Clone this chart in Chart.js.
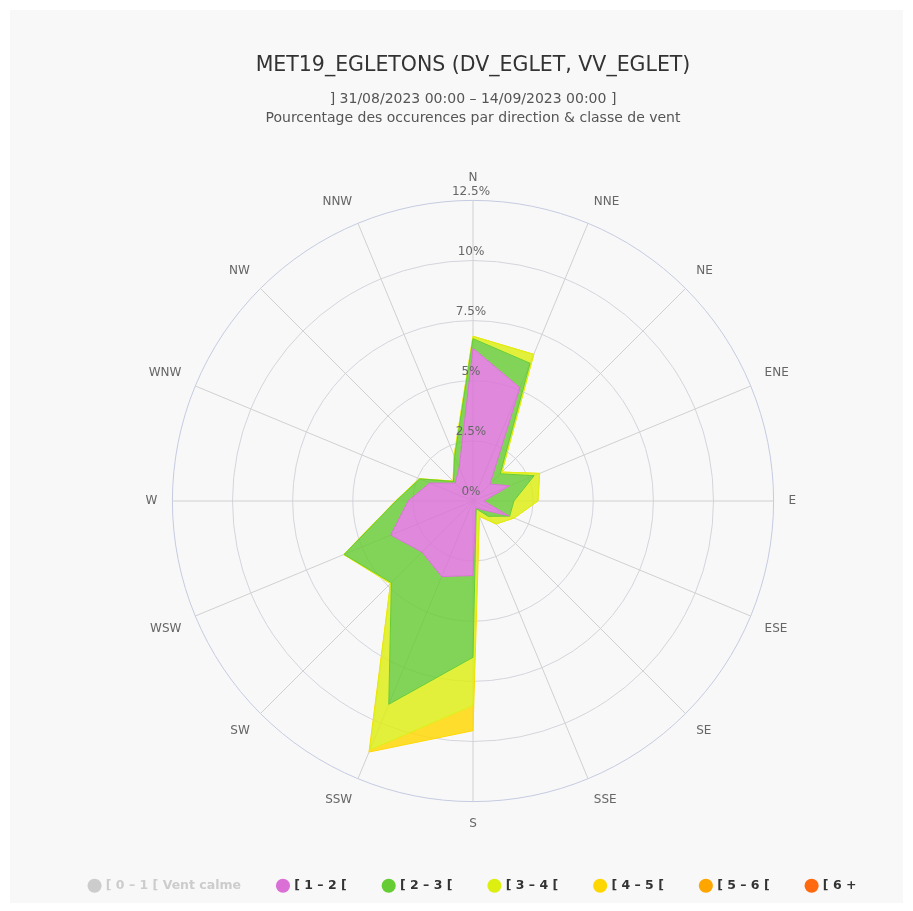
<!DOCTYPE html>
<html>
<head>
<meta charset="utf-8">
<script src="https://cdn.jsdelivr.net/npm/chart.js@4.4.0/dist/chart.umd.min.js"></script>
<style>
    html, body { margin: 0; background: #fff; }
    #box { position: absolute; left: 10px; top: 10px; width: 893px; height: 893px; background: #f8f8f8; }
</style>
</head>
<body>
<div id="box"><canvas id="rose" width="893" height="893"></canvas></div>
<script>
const directions = ['N', 'NNE', 'NE', 'ENE', 'E', 'ESE', 'SE', 'SSE', 'S', 'SSW', 'SW', 'WSW', 'W', 'WNW', 'NW', 'NNW'];
const classes = ['[ 0 – 1 [ Vent calme', '[ 1 – 2 [', '[ 2 – 3 [', '[ 3 – 4 [', '[ 4 – 5 [', '[ 5 – 6 [', '[ 6 +'];
const classColors = ['#cccccc', '#da70d6', '#66cc33', '#ddee11', '#ffd700', '#ffa500', '#ff6a10'];
const tickValues = [0, 2.5, 5, 7.5, 10, 12.5];

const pctCalm = [];   // serie masquee
const pct12 = [6.35, 5.1, 1.0, 1.65, 0.45, 1.6, 0.5, 0.3, 3.1, 3.4, 3.0, 3.7, 2.7, 1.95, 1.05, 1.5];
const pct23 = [0.4, 1.1, 0.6, 1.1, 1.25, 0.05, 0.4, 0.05, 3.4, 5.75, 1.8, 2.1, 0.5, 0.45, 0.1, 0.5];
const pct34 = [0.1, 0.4, 0.1, 0.25, 1.0, 0.2, 0.45, 0.3, 2.0, 2.05, 0.05, 0.02, 0.02, 0.02, 0.02, 0.05];
const pct45 = [0, 0, 0, 0, 0, 0, 0, 0.05, 1.05, 0.1, 0, 0, 0, 0, 0, 0];
const pct56 = [0, 0, 0, 0, 0, 0, 0, 0, 0, 0, 0, 0, 0, 0, 0, 0];
const pct6p = [0, 0, 0, 0, 0, 0, 0, 0, 0, 0, 0, 0, 0, 0, 0, 0];

const FONT = "'DejaVu Sans', Verdana, sans-serif";

function rgba(hex, a) {
    let n = parseInt(hex.slice(1), 16);
    return `rgba(${n >> 16}, ${(n >> 8) & 255}, ${n & 255}, ${a})`;
}

// empilement des classes
let series = [pct12, pct23, pct34, pct45, pct56, pct6p];
let running = directions.map(() => 0);
let datasets = [{
    label: classes[0],
    data: pctCalm,
    hidden: true,
    backgroundColor: classColors[0],
    borderColor: classColors[0]
}];
series.forEach((vals, i) => {
    running = running.map((v, k) => v + vals[k]);
    datasets.push({
        label: classes[i + 1],
        data: running.slice(),
        fill: i === 0 ? 'origin' : '-1',
        backgroundColor: rgba(classColors[i + 1], 0.82),
        borderColor: classColors[i + 1],
        borderWidth: vals.some(v => v > 0) ? 1 : 0,
        pointRadius: 0,
        pointHoverRadius: 0
    });
});

// libelles des cercles, un peu au-dessus de chaque cercle
const tickLabels = {
    id: 'tickLabels',
    afterDatasetsDraw(chart) {
        const s = chart.scales.r;
        const ctx = chart.ctx;
        ctx.save();
        ctx.font = '12px ' + FONT;
        ctx.fillStyle = '#666';
        ctx.textAlign = 'center';
        ctx.textBaseline = 'middle';
        tickValues.forEach(v => {
            let y = s.yCenter - s.getDistanceFromCenterForValue(v) - 9;
            ctx.fillText(v + '%', s.xCenter - 2, y);
        });
        ctx.restore();
    }
};

const ctx = document.getElementById('rose').getContext('2d');
const rose = new Chart(ctx, {
    type: 'radar',
    data: { labels: directions, datasets: datasets },
    plugins: [tickLabels],
    options: {
        responsive: false,
        animation: false,
        layout: { padding: { top: 0, bottom: 1, left: 33, right: 0 } },
        elements: { line: { tension: 0 } },
        scales: {
            r: {
                min: 0,
                max: 12.5,
                ticks: { stepSize: 2.5, display: false },
                grid: {
                    circular: true,
                    color: c => c.index === tickValues.length - 1 ? '#c5cbe0' : '#d4d4dc'
                },
                angleLines: { color: '#d0d0d0' },
                pointLabels: { color: '#666', font: { size: 12, family: FONT }, padding: 15 }
            }
        },
        plugins: {
            title: {
                display: true,
                text: 'MET19_EGLETONS (DV_EGLET, VV_EGLET)',
                color: '#333',
                font: { size: 20.5, family: FONT, weight: 'normal' },
                padding: { top: 43, bottom: 10 }
            },
            subtitle: {
                display: true,
                text: ['] 31/08/2023 00:00 – 14/09/2023 00:00 ]', 'Pourcentage des occurences par direction & classe de vent'],
                color: '#555',
                font: { size: 14, family: FONT, lineHeight: 1.3 },
                padding: { top: 3, bottom: 44 }
            },
            legend: {
                position: 'bottom',
                title: { display: true, text: '', font: { size: 9 }, padding: 0 },
                labels: {
                    usePointStyle: true,
                    boxWidth: 10,
                    boxHeight: 10,
                    padding: 37,
                    font: { size: 12.5, family: FONT, weight: 'bold' },
                    generateLabels: chart => chart.data.datasets.map((d, i) => ({
                        text: d.label,
                        fillStyle: classColors[i],
                        strokeStyle: classColors[i],
                        lineWidth: 0,
                        pointStyle: 'circle',
                        hidden: false,
                        fontColor: i === 0 ? '#cccccc' : '#333',
                        datasetIndex: i
                    }))
                }
            },
            tooltip: { enabled: false }
        }
    }
});
</script>
</body>
</html>
